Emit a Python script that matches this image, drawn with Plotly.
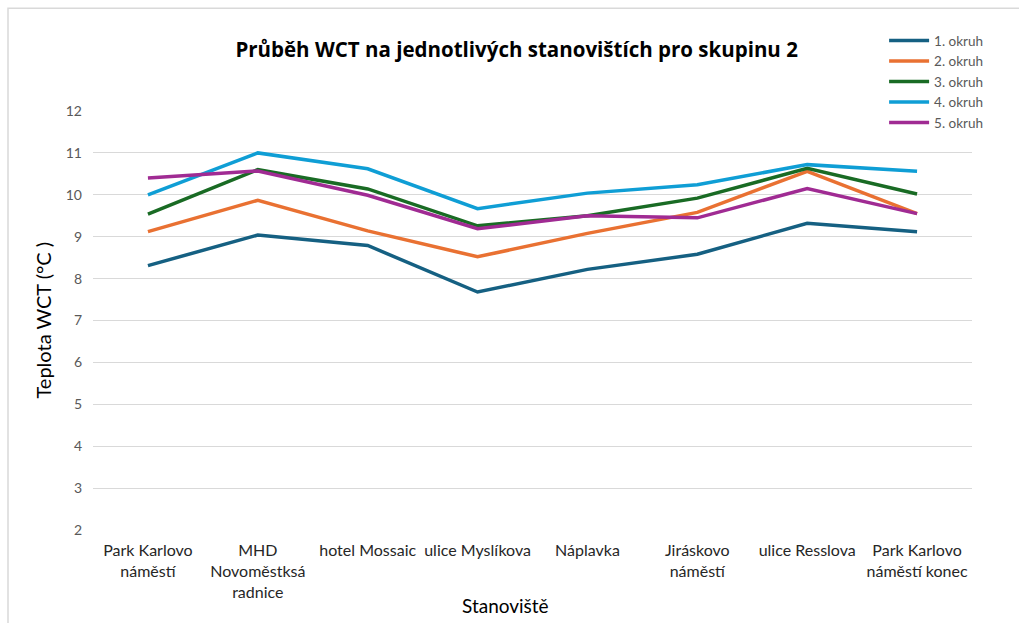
import plotly.graph_objects as go

# stanoviště (categories on the x axis)
stanoviste = [
    "Park Karlovo<br>náměstí",
    "MHD<br>Novoměstksá<br>radnice",
    "hotel Mossaic",
    "ulice Myslíkova",
    "Náplavka",
    "Jiráskovo<br>náměstí",
    "ulice Resslova",
    "Park Karlovo<br>náměstí konec",
]

okruh_1 = [8.31, 9.04, 8.79, 7.68, 8.22, 8.58, 9.32, 9.12]
okruh_2 = [9.12, 9.87, 9.14, 8.52, 9.08, 9.58, 10.56, 9.55]
okruh_3 = [9.54, 10.60, 10.14, 9.26, 9.50, 9.92, 10.63, 10.02]
okruh_4 = [10.00, 11.00, 10.62, 9.67, 10.04, 10.24, 10.72, 10.56]
okruh_5 = [10.40, 10.57, 9.99, 9.19, 9.50, 9.45, 10.15, 9.55]

series = [
    ("1. okruh", okruh_1, "#156082"),
    ("2. okruh", okruh_2, "#E97132"),
    ("3. okruh", okruh_3, "#196B24"),
    ("4. okruh", okruh_4, "#0F9ED5"),
    ("5. okruh", okruh_5, "#A02B93"),
]

fig = go.Figure()
for name, vals, color in series:
    fig.add_trace(go.Scatter(
        x=stanoviste, y=vals, name=name, mode="lines",
        line=dict(color=color, width=3.5),
    ))

fig.update_layout(
    width=1019, height=623,
    margin=dict(l=93, r=47, t=111, b=93),
    paper_bgcolor="white",
    plot_bgcolor="white",
    font=dict(family="Lato, Open Sans, sans-serif", color="#595959"),
    title=dict(
        text="<b>Průběh WCT na jednotlivých stanovištích pro skupinu 2</b>",
        x=0.507, xanchor="center", y=0.92, yanchor="middle",
        font=dict(family="Open Sans, sans-serif", size=20.5, color="black"),
    ),
    legend=dict(
        x=0.9, xanchor="left", y=1.205, yanchor="top",
        font=dict(size=13.5, color="#595959"),
        tracegroupgap=0, itemwidth=40,
        bgcolor="rgba(0,0,0,0)",
    ),
    showlegend=True,
)

fig.update_xaxes(
    type="category", range=[-0.5, 7.5],
    showgrid=False, showline=False, ticks="",
    tickfont=dict(size=16, color="#262626"),
    ticklabelstandoff=9,
)
fig.update_yaxes(
    range=[2, 12], dtick=1,
    showgrid=True, gridcolor="#d9d9d9", gridwidth=1,
    zeroline=False, showline=False, ticks="",
    tickfont=dict(size=14, color="#595959"),
    ticklabelstandoff=10,
)

# axis titles
fig.add_annotation(
    text="Teplota WCT (°C )", xref="paper", yref="paper",
    x=-0.058, y=0.5, xanchor="center", yanchor="middle",
    textangle=-90, showarrow=False,
    font=dict(size=20, color="black"),
)
fig.add_annotation(
    text="Stanoviště", xref="paper", yref="paper",
    x=0.469, y=-0.181, xanchor="center", yanchor="middle",
    showarrow=False,
    font=dict(size=19, color="black"),
)

# chart area border (only left and top edge fall inside the picture)
fig.add_shape(type="rect", xref="paper", yref="paper",
              x0=-0.0967, x1=1.1, y0=-0.3, y1=1.245,
              line=dict(color="#d9d9d9", width=1.5),
              fillcolor="rgba(0,0,0,0)", layer="below")

fig.write_html("out.html", config={"displayModeBar": False},
               post_script="document.body.style.margin='0';")
